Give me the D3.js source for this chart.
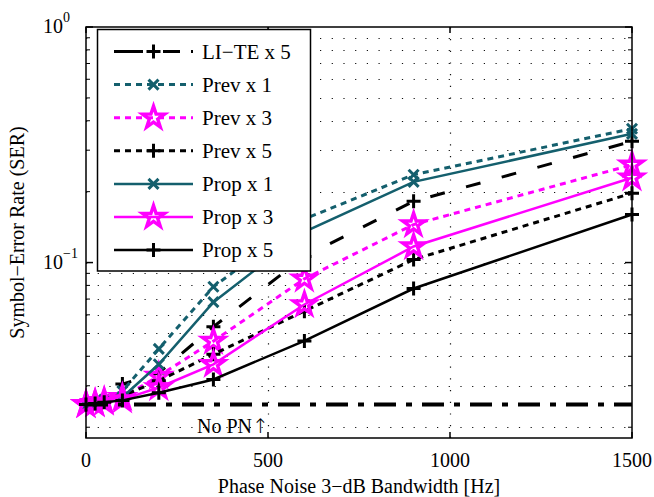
<!DOCTYPE html>
<html>
<head>
<meta charset="utf-8">
<script src="https://cdn.jsdelivr.net/npm/d3@7"></script>
<style>
  html, body { margin: 0; padding: 0; background: #fff; }
  text { font-family: "Liberation Serif", "Times New Roman", serif; fill: #000; }
</style>
</head>
<body>
<svg id="chart" width="654" height="497"></svg>
<script>
// ---------------- data ----------------
const bandwidthHz = [0, 25, 50, 100, 200, 350, 600, 900, 1500];
const seriesNames = ["LI\u2212TE x 5", "Prev x 1", "Prev x 3", "Prev x 5", "Prop x 1", "Prop x 3", "Prop x 5"];
const liteX5  = [0.0250, 0.0255, 0.0262, 0.0305, 0.0340, 0.0534, 0.106, 0.182, 0.327];
const prevX1  = [0.0250, 0.0255, 0.0262, 0.0285, 0.0430, 0.0789, 0.153, 0.236, 0.370];
const prevX3  = [0.0250, 0.0253, 0.0258, 0.0268, 0.0330, 0.0464, 0.0853, 0.145, 0.260];
const prevX5  = [0.0250, 0.0253, 0.0258, 0.0272, 0.0315, 0.0408, 0.0622, 0.103, 0.197];
const propX1  = [0.0250, 0.0253, 0.0258, 0.0268, 0.0370, 0.0679, 0.135, 0.220, 0.352];
const propX3  = [0.0250, 0.0252, 0.0256, 0.0262, 0.0295, 0.0370, 0.0664, 0.117, 0.229];
const propX5  = [0.0250, 0.0252, 0.0255, 0.0260, 0.0280, 0.0319, 0.0465, 0.0776, 0.160];
const noPnX   = [0, 1500];
const noPnSER = [0.025, 0.025];
const xTicks  = [0, 500, 1000, 1500];
const yMajorTicks = [0.1, 1];
const yMinorTicks = [0.02,0.03,0.04,0.05,0.06,0.07,0.08,0.09,0.2,0.3,0.4,0.5,0.6,0.7,0.8,0.9];
const xDomain = [0, 1500];
const yDomain = [0.018, 1];

// ---------------- styles ----------------
const TEAL = "#145f6d", MAG = "#ff00ff", BLK = "#000";
const styles = [
  {color: BLK,  dash: "15,22", width: 3,   marker: "plus",  legendDash: "29,20,17,11,3,20"},
  {color: TEAL, dash: "6,5",   width: 3,   marker: "cross"},
  {color: MAG,  dash: "6,5",   width: 3,   marker: "star"},
  {color: BLK,  dash: "6,5",   width: 3,   marker: "plus"},
  {color: TEAL, dash: null,    width: 2.5, marker: "cross"},
  {color: MAG,  dash: null,    width: 2.5, marker: "star"},
  {color: BLK,  dash: null,    width: 2.5, marker: "plus"}
];
const seriesValues = [liteX5, prevX1, prevX3, prevX5, propX1, propX3, propX5];

// ---------------- layout ----------------
const svg = d3.select("#chart");
const L = 86, R = 632, T = 27, B = 438;
const x = d3.scaleLinear().domain(xDomain).range([L, R]);
const y = d3.scaleLog().domain(yDomain).range([B, T]);

// grid
const grid = svg.append("g").attr("stroke", "#111").attr("stroke-width", 1.2).attr("stroke-dasharray", "1.2,10.5");
yMinorTicks.concat(yMajorTicks.filter(v => v < 1)).forEach(v => {
  grid.append("line").attr("x1", L).attr("x2", R).attr("y1", Math.round(y(v)) + 0.5).attr("y2", Math.round(y(v)) + 0.5);
});
xTicks.filter(v => v > xDomain[0] && v < xDomain[1]).forEach(v => {
  grid.append("line").attr("y1", B).attr("y2", T).attr("x1", Math.round(x(v)) + 0.5).attr("x2", Math.round(x(v)) + 0.5);
});

// markers
function markerPath(type) {
  if (type === "plus") return "M-7,0H7M0,-7V7";
  if (type === "cross") return "M-5,-5L5,5M-5,5L5,-5";
  return d3.symbol(d3.symbolStar, 150)();
}
function drawMarker(g, type, color, cx, cy) {
  g.append("path").attr("d", markerPath(type))
    .attr("transform", `translate(${cx},${cy})`)
    .attr("fill", "none")
    .attr("stroke", color)
    .attr("stroke-width", type === "star" ? 3.4 : 3)
    .attr("stroke-linejoin", "miter");
}

const line = d3.line().x(d => x(d[0])).y(d => y(d[1]));
const plot = svg.append("g");
seriesValues.forEach((vals, i) => {
  const st = styles[i];
  const pts = bandwidthHz.map((b, k) => [b, vals[k]]);
  plot.append("path").datum(pts).attr("d", line)
    .attr("fill", "none").attr("stroke", st.color).attr("stroke-width", st.width)
    .attr("stroke-dasharray", st.dash);
  const mg = plot.append("g");
  pts.forEach(p => drawMarker(mg, st.marker, st.color, x(p[0]), y(p[1])));
});

// No PN reference line
plot.append("path").datum(noPnX.map((b, k) => [b, noPnSER[k]])).attr("d", line)
  .attr("fill", "none").attr("stroke", BLK).attr("stroke-width", 4)
  .attr("stroke-dasharray", "22,10,6,10");
const np = svg.append("text").attr("x", 197).attr("y", 433).attr("font-size", 20);
np.append("tspan").text("No PN");
np.append("tspan").attr("font-family", "DejaVu Sans").attr("font-size", 20).attr("font-weight", 300).text("\u2191");

// axes box & ticks
const ax = svg.append("g").attr("stroke", BLK).attr("stroke-width", 1.5).attr("fill", "none");
ax.append("rect").attr("x", L).attr("y", T).attr("width", R - L).attr("height", B - T);
xTicks.forEach(v => {
  const xp = x(v);
  ax.append("line").attr("x1", xp).attr("x2", xp).attr("y1", B).attr("y2", B - 6);
  ax.append("line").attr("x1", xp).attr("x2", xp).attr("y1", T).attr("y2", T + 6);
});
yMajorTicks.forEach(v => {
  const yp = y(v);
  ax.append("line").attr("x1", L).attr("x2", L + 7).attr("y1", yp).attr("y2", yp);
  ax.append("line").attr("x1", R).attr("x2", R - 7).attr("y1", yp).attr("y2", yp);
});
yMinorTicks.forEach(v => {
  const yp = y(v);
  ax.append("line").attr("x1", L).attr("x2", L + 4).attr("y1", yp).attr("y2", yp).attr("stroke-width", 1);
  ax.append("line").attr("x1", R).attr("x2", R - 4).attr("y1", yp).attr("y2", yp).attr("stroke-width", 1);
});

// tick labels
xTicks.forEach(v => {
  svg.append("text").attr("x", x(v)).attr("y", 467).attr("text-anchor", "middle")
    .attr("font-size", 20).text(d3.format("d")(v));
});
yMajorTicks.forEach(v => {
  const t = svg.append("text").attr("x", 43).attr("y", y(v) + 6).attr("font-size", 20);
  t.append("tspan").text("10");
  t.append("tspan").attr("font-size", 14).attr("dy", -11)
    .text(Math.round(Math.log10(v)) === 0 ? "0" : "\u2212" + Math.abs(Math.round(Math.log10(v))));
});

// axis titles
svg.append("text").attr("x", (L + R) / 2).attr("y", 493).attr("text-anchor", "middle")
  .attr("font-size", 20).text("Phase Noise 3\u2212dB Bandwidth [Hz]");
svg.append("text").attr("transform", `translate(24,${(T + B) / 2}) rotate(-90)`)
  .attr("text-anchor", "middle").attr("font-size", 20).text("Symbol\u2212Error Rate (SER)");

// legend
const lg = svg.append("g");
lg.append("rect").attr("x", 97.5).attr("y", 29.5).attr("width", 213).attr("height", 241.5)
  .attr("fill", "#fff").attr("stroke", BLK).attr("stroke-width", 1.5);
seriesNames.forEach((name, i) => {
  const st = styles[i];
  const cy = 51.5 + i * 33.1;
  lg.append("line").attr("x1", 114).attr("x2", 193).attr("y1", cy).attr("y2", cy)
    .attr("stroke", st.color).attr("stroke-width", st.width)
    .attr("stroke-dasharray", st.legendDash || st.dash);
  drawMarker(lg, st.marker, st.color, 153.5, cy);
  lg.append("text").attr("x", 202).attr("y", cy + 7).attr("font-size", 21).text(name);
});
</script>
</body>
</html>
